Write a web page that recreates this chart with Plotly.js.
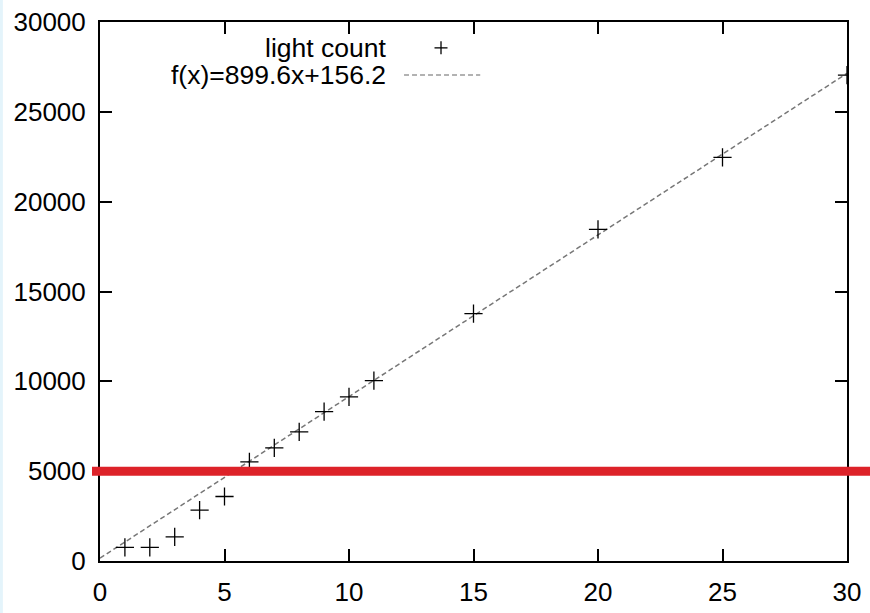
<!DOCTYPE html>
<html>
<head>
<meta charset="utf-8">
<script src="https://cdn.plot.ly/plotly-3.0.1.min.js"></script>
<style>html,body{margin:0;padding:0;background:#fff;}#chart{width:870px;height:613px;}</style>
</head>
<body>
<div id="chart"></div>
<script>
var xValues = [1, 2, 3, 4, 5, 6, 7, 8, 9, 10, 11, 15, 20, 25, 30];
var lightCount = [760, 760, 1340, 2830, 3590, 5520, 6300, 7190, 8310, 9140, 10040, 13770, 18460, 22470, 27040];
var fitSlope = 899.6;
var fitIntercept = 156.2;
var fitX = [0, 30];
var thresholdValue = 5000;
var xTicks = [0, 5, 10, 15, 20, 25, 30];
var yTicks = [0, 5000, 10000, 15000, 20000, 25000, 30000];
var legendLabels = ["light count", "f(x)=899.6x+156.2"];

var fitY = fitX.map(function (x) { return fitSlope * x + fitIntercept; });
var font = {family: "Liberation Sans, Arial, sans-serif", size: 26, color: "#000"};
var legendFont = {family: "Liberation Sans, Arial, sans-serif", size: 26.5, color: "#000"};

var traces = [
  {x: fitX, y: fitY, mode: "lines", type: "scatter", name: legendLabels[1],
   line: {color: "#777", width: 1.5, dash: "5px,3px"}, hoverinfo: "skip"},
  {x: xValues, y: lightCount, mode: "markers", type: "scatter", name: legendLabels[0],
   marker: {symbol: "cross-thin", size: 13, color: "#000", line: {color: "#000", width: 1.3}}}
];

var axisCommon = {
  showgrid: false, zeroline: false, showline: true, linecolor: "#000", linewidth: 2,
  mirror: "ticks", ticks: "inside", ticklen: 12, tickwidth: 2, tickcolor: "#000",
  tickfont: font, fixedrange: true
};

var legY1 = 0.952, legY2 = 0.9017, legSymX = 0.4565;

var layout = {
  width: 870, height: 613,
  margin: {l: 100, r: 23, t: 22, b: 52},
  paper_bgcolor: "#fff", plot_bgcolor: "#fff",
  showlegend: false,
  font: font,
  xaxis: Object.assign({}, axisCommon, {range: [0, 30], tickvals: xTicks, ticktext: xTicks.map(String), ticklabelstandoff: 7}),
  yaxis: Object.assign({}, axisCommon, {range: [0, 30000], tickvals: yTicks, ticktext: yTicks.map(String), ticklabelstandoff: 7}),
  shapes: [
    {type: "rect", xref: "paper", yref: "paper", x0: -0.134, x1: 1.031, y0: 1.0409, y1: 1.046, fillcolor: "#e4f4fb", line: {width: 0}, layer: "below"},
    {type: "rect", xref: "paper", yref: "paper", x0: -0.134, x1: -0.1300, y0: -0.1, y1: 1.046, fillcolor: "#e4f4fb", line: {width: 0}, layer: "below"},
    {type: "line", xref: "paper", yref: "y", x0: -0.0107, x1: 1.031, y0: thresholdValue, y1: thresholdValue,
     line: {color: "#dd2229", width: 9}},
    {type: "line", xref: "paper", yref: "paper", x0: 0.407, x1: 0.509, y0: legY2, y1: legY2,
     line: {color: "#999", width: 1.5, dash: "5px,3px"}},
    {type: "line", xref: "paper", yref: "paper", xsizemode: "pixel", xanchor: legSymX, x0: -6.5, x1: 6.5,
     y0: legY1, y1: legY1, line: {color: "#000", width: 1.3}},
    {type: "line", xref: "paper", yref: "paper", ysizemode: "pixel", yanchor: legY1, y0: -6.5, y1: 6.5,
     x0: legSymX, x1: legSymX, line: {color: "#000", width: 1.3}}
  ],
  annotations: [
    {xref: "paper", yref: "paper", x: 0.3855, y: legY1, xanchor: "right", yanchor: "middle", text: legendLabels[0], showarrow: false, font: legendFont},
    {xref: "paper", yref: "paper", x: 0.3855, y: legY2, xanchor: "right", yanchor: "middle", text: legendLabels[1], showarrow: false, font: legendFont}
  ]
};

Plotly.newPlot("chart", traces, layout, {displayModeBar: false, staticPlot: true});
</script>
</body>
</html>
